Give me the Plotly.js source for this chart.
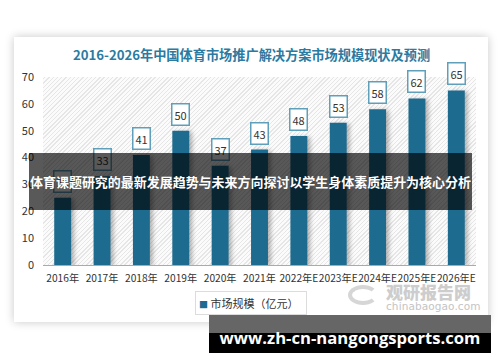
<!DOCTYPE html>
<html><head><meta charset="utf-8">
<script src="https://cdn.plot.ly/plotly-3.0.1.min.js"></script>
<style>
html,body{margin:0;padding:0;background:#fff;width:500px;height:362px;overflow:hidden;font-family:"Noto Sans CJK SC","Noto Sans",sans-serif;}
#card{position:absolute;left:14px;top:37px;width:474px;height:285px;background:#fff;box-shadow:0 0 9px rgba(0,0,0,0.22);}
#hatch{position:absolute;left:43px;top:77px;width:433px;height:188px;
 background:repeating-linear-gradient(-45deg,#fbfbfb 0px,#fbfbfb 2px,#e6e6e6 2px,#e6e6e6 3px);}
#chart{position:absolute;left:0;top:0;width:500px;height:362px;}
#chart .bars path{filter:drop-shadow(3px 1px 2px rgba(0,0,0,0.28));}
#band{position:absolute;left:29px;top:153px;width:443px;height:57px;background:rgba(0,0,0,0.65);}
#bandt{position:absolute;left:0;top:0;width:443px;height:57px;line-height:57px;text-align:center;white-space:nowrap;
 color:#fff;font-family:"Noto Sans CJK SC",sans-serif;font-weight:bold;font-size:13px;}
#wm1{position:absolute;left:209px;top:315px;width:282px;height:18px;background:#666;}
#wm2{position:absolute;left:209px;top:333px;width:282px;height:20px;background:#000;}
#wmt{position:absolute;left:209px;top:324px;width:282px;height:28px;line-height:28px;text-align:center;color:#fff;
 font-family:"Open Sans","DejaVu Sans",sans-serif;font-weight:bold;font-size:18.5px;white-space:nowrap;}
#logo1{position:absolute;left:386px;top:283px;height:17px;line-height:17px;color:#cdcdcd;font-family:"Noto Sans CJK SC",sans-serif;font-weight:900;font-size:17px;}
#logo2{position:absolute;left:386px;top:300px;height:12px;line-height:12px;color:#c4c4c4;font-family:"DejaVu Sans",sans-serif;font-size:10.5px;letter-spacing:0.1px;}
#swirl{position:absolute;left:348px;top:285px;width:30px;height:20px;border:4px solid #d6d6d6;border-radius:50%;border-right-color:transparent;box-sizing:border-box;}
</style></head>
<body>
<div id="card"></div>
<div id="hatch"></div>
<div id="chart"></div>
<div id="swirl"></div>
<div id="logo1">观研报告网</div>
<div id="logo2">chinabaogao.com</div>
<div id="band"><div id="bandt">体育课题研究的最新发展趋势与未来方向探讨以学生身体素质提升为核心分析</div></div>
<div id="wm1"></div><div id="wm2"></div>
<div id="wmt">www.zh-cn-nangongsports.com</div>
<script>
const categories = ["2016年","2017年","2018年","2019年","2020年","2021年","2022年E","2023年E","2024年E","2025年E","2026年E"];
const values = [25,33,41,50,37,43,48,53,58,62,65];
const seriesName = "市场规模（亿元）";
const titleText = "2016-2026年中国体育市场推广解决方案市场规模现状及预测";

const barColor = "#1d6b8f";
const fontFam = "Noto Sans CJK SC, Noto Sans, sans-serif";

// fit overlay text widths
function fitText(id, font, basePx, target){
  const t = document.getElementById(id);
  const s = document.createElement('span');
  s.textContent = t.textContent; s.style.font = font; s.style.whiteSpace='nowrap';
  s.style.position='absolute'; s.style.visibility='hidden';
  document.body.appendChild(s);
  const w = s.getBoundingClientRect().width;
  document.body.removeChild(s);
  if (w > 0) t.style.fontSize = (basePx * target / w).toFixed(2) + 'px';
}
fitText('bandt', 'bold 13px "Noto Sans CJK SC"', 13, 441);
fitText('wmt', 'bold 18px "Open Sans"', 18, 261);

const annotations = categories.map((c,i)=>({
  x:c, y:values[i], xref:'x', yref:'y', text:String(values[i]),
  showarrow:false, yanchor:'bottom', yshift:5,
  bgcolor:'#fff', bordercolor:'#5f9fba', borderwidth:1.5, borderpad:2,
  font:{size:11,color:'#333',family:fontFam}
}));
// legend box
annotations.push({
  xref:'paper', yref:'paper', x:(251-43)/433, y:(265-303)/188, xanchor:'center', yanchor:'middle',
  showarrow:false, bgcolor:'#fff', bordercolor:'#dcdcdc', borderwidth:1, borderpad:3,
  text:'<span style="color:' + barColor + ';font-size:9px">■</span> ' + seriesName + '  ',
  font:{size:11,color:'#333',family:fontFam}
});

const data = [{
  type:'bar', x:categories, y:values, name:seriesName,
  marker:{color:barColor}, width:0.43, showlegend:false
}];

const layout = {
  width:500, height:362,
  margin:{l:43,r:24,t:77,b:97},
  paper_bgcolor:'rgba(0,0,0,0)', plot_bgcolor:'rgba(0,0,0,0)',
  title:{text:titleText, x:0.503, xanchor:'center', y:0.848, yanchor:'middle',
    font:{size:13.2,color:'#2b7aa1',family:fontFam,weight:'bold'}},
  font:{family:fontFam,color:'#333'},
  xaxis:{type:'category', showline:true, linecolor:'#aaa', linewidth:1, ticks:'', tickangle:0,
    tickfont:{size:10.2,color:'#333'}, showgrid:false, fixedrange:true, ticklabelstandoff:4},
  yaxis:{range:[0,70], dtick:10, showgrid:false, zeroline:false, showline:false,
    ticks:'', ticklabelstandoff:8, tickfont:{size:11,color:'#333'}, fixedrange:true},
  showlegend:false,
  annotations:annotations,
  bargap:0.5
};
Plotly.newPlot('chart', data, layout, {displayModeBar:false, staticPlot:true});
</script>
</body></html>
